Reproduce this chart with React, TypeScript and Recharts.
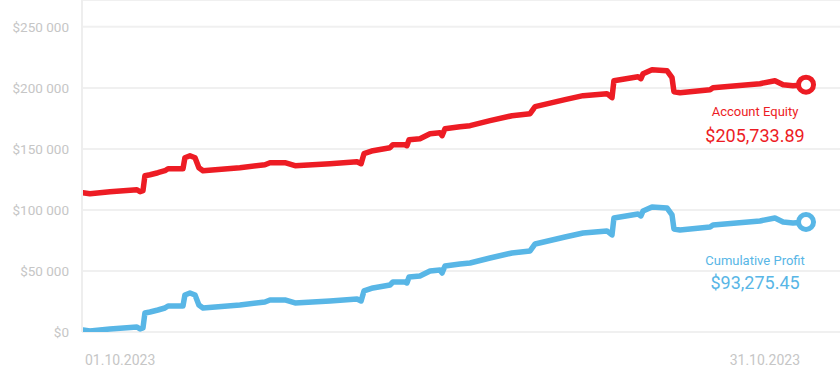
import React from 'react';
import { LineChart, Line, XAxis, YAxis, CartesianGrid } from 'recharts';

const days = [
  1.0, 1.29, 2.12, 3.24, 3.37, 3.49, 3.57, 3.78, 4.11, 4.4, 4.53, 5.15, 5.23, 5.44, 5.65, 5.81,
  5.98, 7.51, 8.55, 8.76, 9.38, 9.8, 11.25, 12.37, 12.54, 12.66, 13.03, 13.74, 13.86, 14.36,
  14.44, 14.53, 14.98, 15.4, 15.81, 15.9, 16.02, 16.64, 17.06, 17.89, 18.8, 19.55, 19.76, 21.0,
  21.75, 22.74, 22.95, 23.03, 24.03, 24.15, 24.24, 24.61, 25.23, 25.44, 25.52, 25.77, 27.02,
  27.14, 29.09, 29.71, 30.05, 30.46, 31.0,
];

const cumulativeProfit = [
  1640, 820, 2460, 4100, 2460, 3280, 15570, 16390, 18030, 19670, 21310, 21310, 30330, 31970,
  30330, 22130, 19670, 22130, 24590, 26230, 26230, 23770, 25410, 27050, 25410, 33610, 36070,
  38520, 40980, 40980, 40160, 45080, 45900, 50000, 50820, 48360, 54100, 55740, 56560, 60660,
  64750, 66390, 72130, 77870, 81150, 82790, 79510, 93440, 96720, 95080, 99180, 102460, 101640,
  95900, 84430, 83610, 86070, 87700, 90980, 93440, 90160, 89340, 90160,
];

const accountEquity = [
  114100, 113280, 114920, 116560, 114920, 115740, 128030, 128850, 130490, 132130, 133770,
  133770, 142790, 144430, 142790, 134590, 132130, 134590, 137050, 138690, 138690, 136230,
  137870, 139510, 137870, 146070, 148530, 150980, 153440, 153440, 152620, 157540, 158360,
  162460, 163280, 160820, 166560, 168200, 169020, 173120, 177210, 178850, 184590, 190330,
  193610, 195250, 191970, 205900, 209180, 207540, 211640, 214920, 214100, 208360, 196890,
  196070, 198530, 200160, 203440, 205900, 202620, 201800, 202620,
];

const yTicks = [0, 50000, 100000, 150000, 200000, 250000];
const xTicks = [1, 31];
const xTickLabels = ['01.10.2023', '31.10.2023'];
const seriesNames = ['Account Equity', 'Cumulative Profit'];
const seriesTotals = ['$205,733.89', '$93,275.45'];

const RED = '#ED1C24';
const BLUE = '#58B6E6';
const FONT = 'Roboto, "Noto Sans", sans-serif';

const data = days.map((d, i) => ({
  day: d,
  equity: accountEquity[i],
  profit: cumulativeProfit[i],
}));

const fmtY = (v: number) => {
  if (v === 0) return '$0';
  const th = Math.floor(v / 1000);
  const rest = String(v % 1000).padStart(3, '0');
  return '$' + th + ' ' + rest;
};

const XTick = (props: any) => {
  const { x, payload } = props;
  const idx = xTicks.indexOf(payload.value);
  const first = idx === 0;
  return (
    <text
      x={first ? x + 2 : x - 6}
      y={360}
      textAnchor={first ? 'start' : 'end'}
      dominantBaseline="central"
      fill="#c6c6c6"
      fontSize={14}
      fontFamily={FONT}
    >
      {xTickLabels[idx]}
    </text>
  );
};

const makeEndDot = (color: string, name: string, total: string, dy1: number, dy2: number) =>
  (props: any) => {
    const { cx, cy, index } = props;
    if (index !== days.length - 1) return <g key={'d' + index} />;
    return (
      <g key={'d' + index}>
        <circle cx={cx} cy={cy} r={7.5} fill="#fff" stroke={color} strokeWidth={5} />
        <text x={cx - 51} y={cy + dy1} textAnchor="middle" dominantBaseline="central" fill={color} fontSize={13} fontFamily={FONT}>
          {name}
        </text>
        <text x={cx - 51} y={cy + dy2} textAnchor="middle" dominantBaseline="central" fill={color} fontSize={18} fontFamily={FONT}>
          {total}
        </text>
      </g>
    );
  };

export default function App() {
  return (
    <div style={{ position: 'absolute', left: 0, top: 0, width: 840, height: 383, background: '#fff' }}>
      <LineChart width={840} height={383} data={data} margin={{ top: 0, right: 0, bottom: 0, left: 0 }}>
        <CartesianGrid vertical={false} stroke="#f0f0f0" strokeWidth={2} />
        <XAxis
          dataKey="day"
          type="number"
          domain={[0.96, 32.41]}
          ticks={xTicks}
          height={51}
          axisLine={false}
          tickLine={false}
          tick={<XTick />}
          allowDataOverflow
        />
        <YAxis
          type="number"
          domain={[0, 272000]}
          ticks={yTicks}
          width={82}
          axisLine={{ stroke: '#eeeeee', strokeWidth: 2 }}
          tickLine={false}
          tickSize={0}
          tickMargin={13}
          tickFormatter={fmtY}
          tick={{ fill: '#c6c6c6', fontSize: 13.5, fontFamily: FONT }}
          allowDataOverflow
        />
        <Line
          type="linear"
          dataKey="equity"
          stroke={RED}
          strokeWidth={5.5}
          strokeLinejoin="round"
          strokeLinecap="round"
          dot={makeEndDot(RED, seriesNames[0], seriesTotals[0], 27, 51)}
          activeDot={false}
          isAnimationActive={false}
        />
        <Line
          type="linear"
          dataKey="profit"
          stroke={BLUE}
          strokeWidth={5.5}
          strokeLinejoin="round"
          strokeLinecap="round"
          dot={makeEndDot(BLUE, seriesNames[1], seriesTotals[1], 39, 61)}
          activeDot={false}
          isAnimationActive={false}
        />
      </LineChart>
    </div>
  );
}
